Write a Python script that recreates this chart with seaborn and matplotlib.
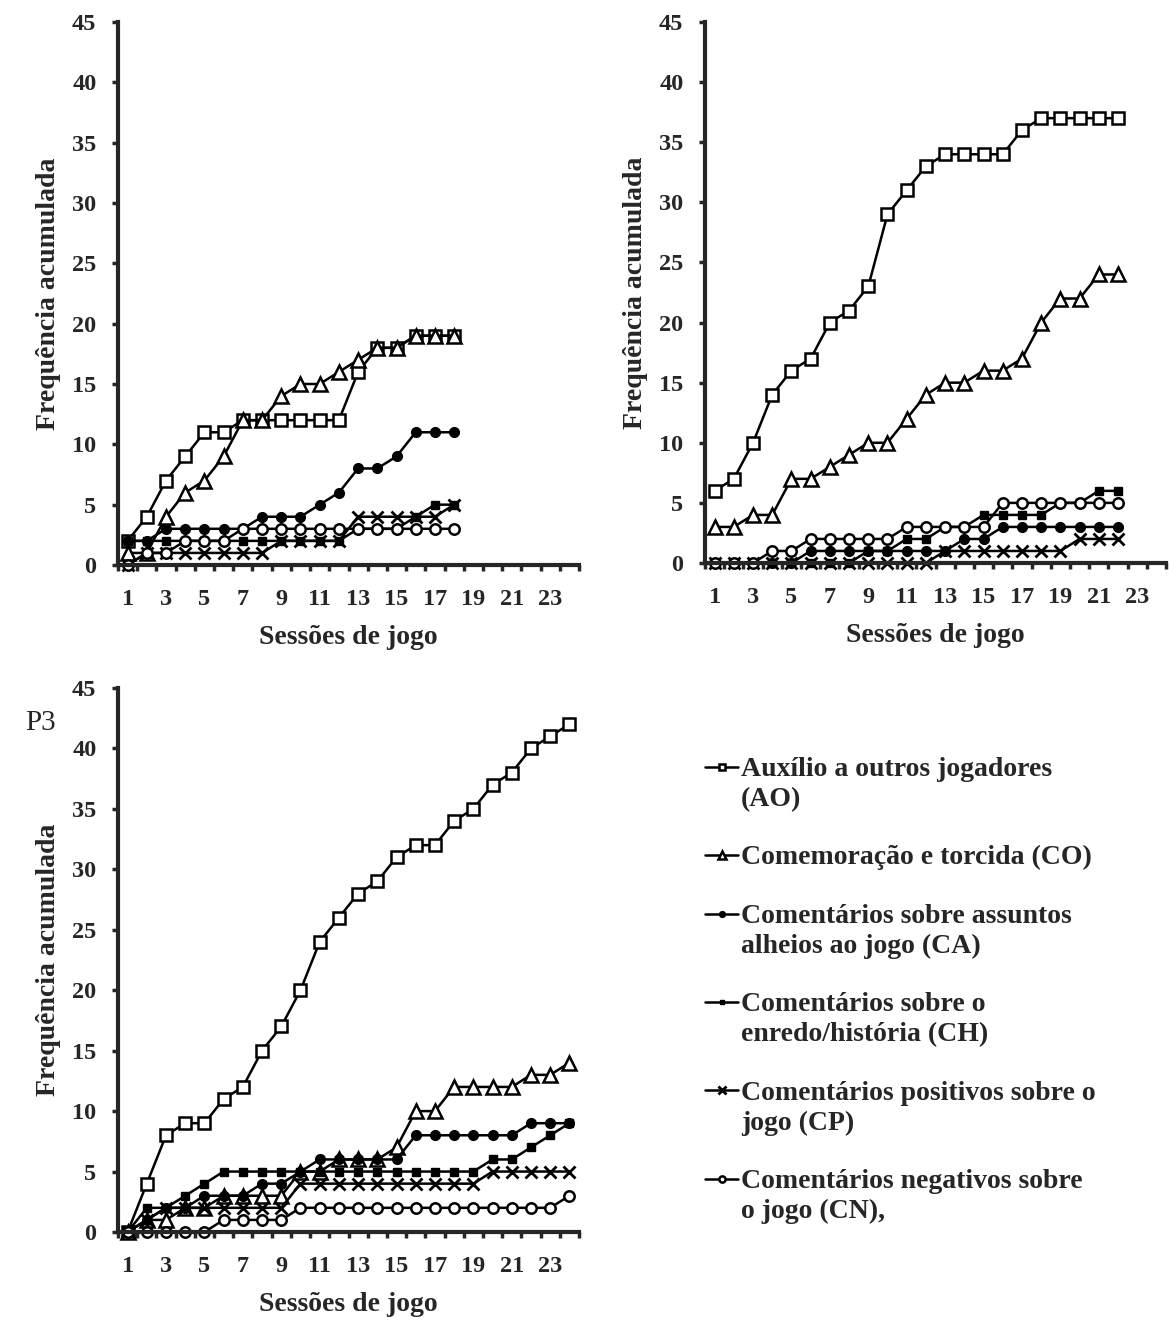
import numpy as np
import pandas as pd
import seaborn as sns
import matplotlib.pyplot as plt
from matplotlib.ticker import MultipleLocator, FixedLocator

# ----------- DATA (cumulative frequency per game session) -----------
# Panel 1 (18 sessions)
p1_ao = [2, 4, 7, 9, 11, 11, 12, 12, 12, 12, 12, 12, 16, 18, 18, 19, 19, 19]
p1_co = [1, 1, 4, 6, 7, 9, 12, 12, 14, 15, 15, 16, 17, 18, 18, 19, 19, 19]
p1_ca = [2, 2, 3, 3, 3, 3, 3, 4, 4, 4, 5, 6, 8, 8, 9, 11, 11, 11]
p1_ch = [2, 2, 2, 2, 2, 2, 2, 2, 2, 2, 2, 2, 3, 3, 3, 4, 5, 5]
p1_cp = [0, 1, 1, 1, 1, 1, 1, 1, 2, 2, 2, 2, 4, 4, 4, 4, 4, 5]
p1_cn = [0, 1, 1, 2, 2, 2, 3, 3, 3, 3, 3, 3, 3, 3, 3, 3, 3, 3]

# Panel 2 (22 sessions)
p2_ao = [6, 7, 10, 14, 16, 17, 20, 21, 23, 29, 31, 33, 34, 34, 34, 34, 36, 37, 37, 37, 37, 37]
p2_co = [3, 3, 4, 4, 7, 7, 8, 9, 10, 10, 12, 14, 15, 15, 16, 16, 17, 20, 22, 22, 24, 24]
p2_ca = [0, 0, 0, 0, 0, 1, 1, 1, 1, 1, 1, 1, 1, 2, 2, 3, 3, 3, 3, 3, 3, 3]
p2_ch = [0, 0, 0, 0, 0, 0, 0, 0, 1, 1, 2, 2, 3, 3, 4, 4, 4, 4, 5, 5, 6, 6]
p2_cp = [0, 0, 0, 0, 0, 0, 0, 0, 0, 0, 0, 0, 1, 1, 1, 1, 1, 1, 1, 2, 2, 2]
p2_cn = [0, 0, 0, 1, 1, 2, 2, 2, 2, 2, 3, 3, 3, 3, 3, 5, 5, 5, 5, 5, 5, 5]

# Panel 3 (24 sessions)
p3_ao = [0, 4, 8, 9, 9, 11, 12, 15, 17, 20, 24, 26, 28, 29, 31, 32, 32, 34, 35, 37, 38, 40, 41, 42]
p3_co = [0, 1, 1, 2, 2, 3, 3, 3, 3, 5, 5, 6, 6, 6, 7, 10, 10, 12, 12, 12, 12, 13, 13, 14]
p3_ca = [0, 1, 2, 2, 3, 3, 3, 4, 4, 5, 6, 6, 6, 6, 6, 8, 8, 8, 8, 8, 8, 9, 9, 9]
p3_ch = [0, 2, 2, 3, 4, 5, 5, 5, 5, 5, 5, 5, 5, 5, 5, 5, 5, 5, 5, 6, 6, 7, 8, 9]
p3_cp = [0, 1, 2, 2, 2, 2, 2, 2, 2, 4, 4, 4, 4, 4, 4, 4, 4, 4, 4, 5, 5, 5, 5, 5]
p3_cn = [0, 0, 0, 0, 0, 1, 1, 1, 1, 2, 2, 2, 2, 2, 2, 2, 2, 2, 2, 2, 2, 2, 2, 3]

codes = ['AO', 'CO', 'CA', 'CH', 'CP', 'CN']
legend_labels = [
    'Auxílio a outros jogadores\n(AO)',
    'Comemoração e torcida (CO)',
    'Comentários sobre assuntos\nalheios ao jogo (CA)',
    'Comentários sobre o\nenredo/história (CH)',
    'Comentários positivos sobre o\njogo (CP)',
    'Comentários negativos sobre\no jogo (CN),',
]
xtick_labels = [str(i) for i in range(1, 24, 2)]

panels = [
    [p1_ao, p1_co, p1_ca, p1_ch, p1_cp, p1_cn],
    [p2_ao, p2_co, p2_ca, p2_ch, p2_cp, p2_cn],
    [p3_ao, p3_co, p3_ca, p3_ch, p3_cp, p3_cn],
]

# marker style per behaviour category
styles = {
    'AO': dict(marker='s', markersize=8, markerfacecolor='white', markeredgewidth=1.8),
    'CO': dict(marker='^', markersize=10, markerfacecolor='white', markeredgewidth=1.8),
    'CA': dict(marker='o', markersize=7, markerfacecolor='black', markeredgewidth=1),
    'CH': dict(marker='s', markersize=6, markerfacecolor='black', markeredgewidth=1),
    'CP': dict(marker='x', markersize=9, markeredgewidth=2),
    'CN': dict(marker='o', markersize=7.5, markerfacecolor='white', markeredgewidth=1.8),
}

sns.set_style('ticks')
plt.rcParams['font.family'] = ['Liberation Serif', 'DejaVu Serif']
plt.rcParams['font.weight'] = 'bold'

W, H = 1169, 1320
fig = plt.figure(figsize=(W / 100, H / 100), dpi=100)

# axes boxes in pixels: left, top, right, bottom
boxes = [(118, 22, 579, 565), (705, 22, 1166, 563), (118, 688, 579, 1232)]

axes = []
for (l, t, r, b), series in zip(boxes, panels):
    ax = fig.add_axes([l / W, 1 - b / H, (r - l) / W, (b - t) / H])
    for code, values in zip(codes, series):
        sessions = np.arange(1, len(values) + 1)
        sns.lineplot(x=sessions, y=values, ax=ax, color='black', linewidth=1.8,
                     markeredgecolor='black', legend=False, label=code, **styles[code])
    ax.set_xlim(0.5, 24.5)
    ax.set_ylim(0, 45)
    ax.yaxis.set_major_locator(MultipleLocator(5))
    ax.xaxis.set_major_locator(FixedLocator(range(1, 24, 2)))
    ax.set_xticklabels(xtick_labels)
    ax.xaxis.set_minor_locator(FixedLocator(np.arange(0.5, 25, 1)))
    ax.tick_params(axis='x', which='major', length=0, pad=17, labelsize=17.5)
    ax.tick_params(axis='x', which='minor', length=4.5, width=2.5, direction='out')
    ax.tick_params(axis='y', length=4.5, width=2.5, direction='out', pad=11, labelsize=17.5)
    for s in ['left', 'bottom']:
        ax.spines[s].set_linewidth(3)
    for s in ['top', 'right']:
        ax.spines[s].set_visible(False)
    ax.set_xlabel('Sessões de jogo', fontsize=20, fontweight='bold', labelpad=11)
    ax.set_ylabel('Frequência acumulada', fontsize=20, fontweight='bold', labelpad=8)
    ax.set_facecolor('white')
    for line in ax.get_lines():
        line.set_clip_on(False)
    axes.append(ax)

fig.text(25 / W, 1 - 723 / H, 'P3', fontsize=21, fontweight='normal', va='center', ha='left')

handles = axes[2].get_lines()[:6]
leg = fig.legend(handles, legend_labels, loc='upper left',
                 bbox_to_anchor=(705 / W, 1 - 757 / H), frameon=False,
                 handlelength=1.2, handletextpad=0.1, labelspacing=1.2,
                 markerscale=0.6, borderpad=0, borderaxespad=0,
                 prop=dict(family='Liberation Serif', weight='bold', size=20))
for t in leg.get_texts():
    t.set_linespacing(1.26)
# put the legend handle next to the first line of each label
for col in leg._legend_handle_box.get_children():
    for row in col.get_children():
        row.align = 'top'

fig.savefig('out.png', dpi=100, facecolor='white')
